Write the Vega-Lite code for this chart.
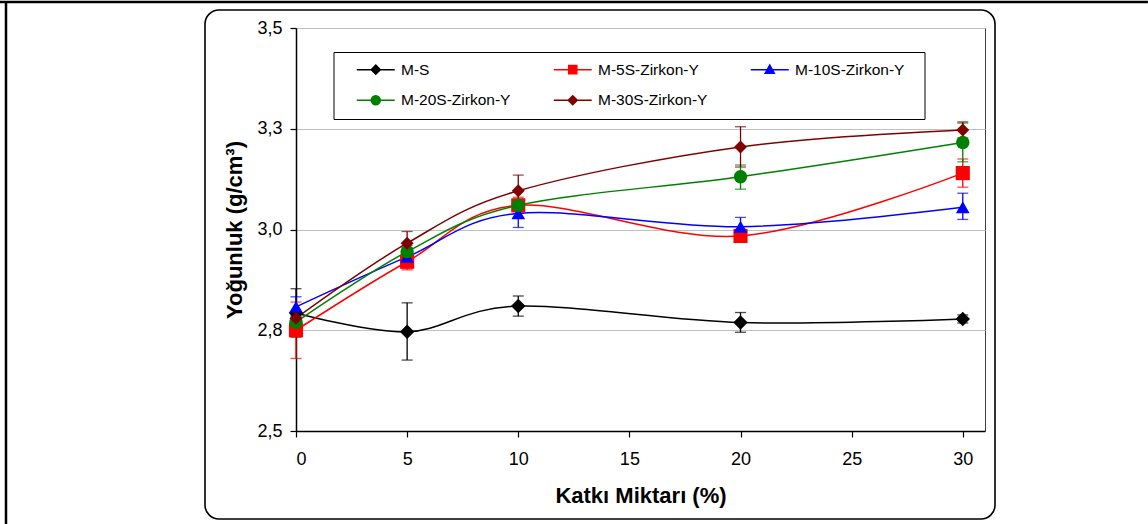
{
  "$schema": "https://vega.github.io/schema/vega-lite/v6.json",
  "width": 689,
  "height": 403,
  "autosize": {"type": "none"},
  "padding": {"left": 296, "top": 28, "right": 163, "bottom": 93},
  "background": "white",
  "config": {
    "font": "Liberation Sans",
    "view": {"stroke": "#404040", "strokeWidth": 1, "fill": "white"},
    "axis": {
      "labelFont": "Liberation Sans",
      "labelColor": "#000000",
      "labelFontSize": 18,
      "titleFont": "Liberation Sans",
      "titleColor": "#000000",
      "titleFontSize": 22,
      "titleFontWeight": "bold",
      "domainColor": "#000000",
      "domainWidth": 1.5,
      "tickColor": "#000000",
      "tickWidth": 1.2,
      "tickSize": 6,
      "gridColor": "#c0c0c0",
      "gridWidth": 1
    },
    "legend": {
      "orient": "none",
      "columns": 3,
      "direction": "horizontal",
      "gridAlign": "each",
      "padding": 9.5,
      "rowPadding": 14,
      "columnPadding": 19,
      "symbolSize": 81,
      "symbolStrokeWidth": 1.5,
      "symbolOffset": 25,
      "labelOffset": 17.5,
      "labelFont": "Liberation Sans",
      "labelFontSize": 15.5,
      "labelColor": "#000000",
      "labelLimit": 300,
      "strokeColor": "#000000",
      "fillColor": "#ffffff"
    }
  },
  "resolve": {
    "scale": {"shape": "independent"},
    "legend": {"color": "independent", "shape": "independent", "size": "independent", "stroke": "independent"}
  },
  "data": {
    "values": [
      {"s": "M-S", "x": 0, "y": 2.793, "lo": 2.733, "hi": 2.853},
      {"s": "M-S", "x": 5, "y": 2.746, "lo": 2.676, "hi": 2.818},
      {"s": "M-S", "x": 10, "y": 2.81, "lo": 2.785, "hi": 2.835},
      {"s": "M-S", "x": 20, "y": 2.769, "lo": 2.745, "hi": 2.794},
      {"s": "M-S", "x": 30, "y": 2.778, "lo": 2.768, "hi": 2.788},
      {"s": "M-5S-Zirkon-Y", "x": 0, "y": 2.75, "lo": 2.68, "hi": 2.82},
      {"s": "M-5S-Zirkon-Y", "x": 5, "y": 2.92, "lo": 2.9, "hi": 2.94},
      {"s": "M-5S-Zirkon-Y", "x": 10, "y": 3.06, "lo": 3.04, "hi": 3.08},
      {"s": "M-5S-Zirkon-Y", "x": 20, "y": 2.984, "lo": 2.97, "hi": 3.0},
      {"s": "M-5S-Zirkon-Y", "x": 30, "y": 3.14, "lo": 3.105, "hi": 3.175},
      {"s": "M-10S-Zirkon-Y", "x": 0, "y": 2.808, "lo": 2.785, "hi": 2.833},
      {"s": "M-10S-Zirkon-Y", "x": 5, "y": 2.932, "lo": 2.905, "hi": 2.955},
      {"s": "M-10S-Zirkon-Y", "x": 10, "y": 3.04, "lo": 3.005, "hi": 3.07},
      {"s": "M-10S-Zirkon-Y", "x": 20, "y": 3.007, "lo": 2.985, "hi": 3.03},
      {"s": "M-10S-Zirkon-Y", "x": 30, "y": 3.055, "lo": 3.025, "hi": 3.09},
      {"s": "M-20S-Zirkon-Y", "x": 0, "y": 2.77, "lo": 2.755, "hi": 2.785},
      {"s": "M-20S-Zirkon-Y", "x": 5, "y": 2.945, "lo": 2.93, "hi": 2.96},
      {"s": "M-20S-Zirkon-Y", "x": 10, "y": 3.06, "lo": 3.045, "hi": 3.075},
      {"s": "M-20S-Zirkon-Y", "x": 20, "y": 3.131, "lo": 3.1, "hi": 3.16},
      {"s": "M-20S-Zirkon-Y", "x": 30, "y": 3.216, "lo": 3.168, "hi": 3.264},
      {"s": "M-30S-Zirkon-Y", "x": 0, "y": 2.78, "lo": 2.765, "hi": 2.795},
      {"s": "M-30S-Zirkon-Y", "x": 5, "y": 2.966, "lo": 2.935, "hi": 2.995},
      {"s": "M-30S-Zirkon-Y", "x": 10, "y": 3.096, "lo": 3.055, "hi": 3.135},
      {"s": "M-30S-Zirkon-Y", "x": 20, "y": 3.205, "lo": 3.155, "hi": 3.255},
      {"s": "M-30S-Zirkon-Y", "x": 30, "y": 3.247, "lo": 3.227, "hi": 3.267}
    ]
  },
  "layer": [
    {
      "data": {"values": [{}]},
      "mark": {"type": "rect", "fillOpacity": 0, "stroke": "#000000", "strokeWidth": 1.6, "cornerRadius": 14, "clip": false},
      "encoding": {
        "x": {"datum": -4.094, "type": "quantitative", "title": "Katkı Miktarı (%)"},
        "x2": {"datum": 31.45},
        "y": {"datum": 3.5447, "type": "quantitative", "title": "Yoğunluk (g/cm³)"},
        "y2": {"datum": 2.2816}
      }
    },
    {
      "data": {"values": [{}]},
      "mark": {"type": "rule", "stroke": "#000000", "strokeWidth": 2.5, "clip": false},
      "encoding": {
        "x": {"datum": -13.32, "type": "quantitative", "title": "Katkı Miktarı (%)"},
        "x2": {"datum": 38.33},
        "y": {"datum": 3.5645, "type": "quantitative", "title": "Yoğunluk (g/cm³)"}
      }
    },
    {
      "data": {"values": [{}]},
      "mark": {"type": "rule", "stroke": "#000000", "strokeWidth": 2.5, "clip": false},
      "encoding": {
        "x": {"datum": -13.048, "type": "quantitative", "title": "Katkı Miktarı (%)"},
        "y": {"datum": 3.5645, "type": "quantitative", "title": "Yoğunluk (g/cm³)"},
        "y2": {"datum": 2.2692}
      }
    },
    {
      "mark": {"type": "errorbar", "ticks": {"size": 11, "thickness": 1.3}, "rule": {"strokeWidth": 1.3}},
      "encoding": {
        "x": {"field": "x", "type": "quantitative", "title": "Katkı Miktarı (%)"},
        "y": {"field": "lo", "type": "quantitative", "title": "Yoğunluk (g/cm³)"},
        "y2": {"field": "hi"},
        "color": {"field": "s", "type": "nominal", "legend": null}
      }
    },
    {
      "mark": {"type": "line", "interpolate": "cardinal", "strokeWidth": 1.5},
      "encoding": {
        "x": {"field": "x", "type": "quantitative", "title": "Katkı Miktarı (%)"},
        "y": {"field": "y", "type": "quantitative", "title": "Yoğunluk (g/cm³)"},
        "color": {"field": "s", "type": "nominal", "legend": null}
      }
    },
    {
      "mark": {"type": "point", "filled": true, "opacity": 1, "strokeWidth": 0},
      "encoding": {
        "x": {
          "field": "x",
          "type": "quantitative",
          "title": "Katkı Miktarı (%)",
          "scale": {"domain": [0, 31], "nice": false, "zero": false},
          "axis": {
            "values": [0, 5, 10, 15, 20, 25, 30],
            "grid": false,
            "labelPadding": 13,
            "titlePadding": 17
          }
        },
        "y": {
          "field": "y",
          "type": "quantitative",
          "title": "Yoğunluk (g/cm³)",
          "scale": {"domain": [2.5, 3.5], "nice": false, "zero": false},
          "axis": {
            "values": [2.5, 2.75, 3, 3.25, 3.5],
            "labelExpr": "replace(format(datum.value, '.1f'), '.', ',')",
            "grid": true,
            "labelPadding": 8,
            "titlePadding": 10
          }
        },
        "color": {
          "field": "s",
          "type": "nominal",
          "scale": {
            "domain": ["M-S", "M-5S-Zirkon-Y", "M-10S-Zirkon-Y", "M-20S-Zirkon-Y", "M-30S-Zirkon-Y"],
            "range": ["#000000", "#FF0000", "#0000FF", "#008000", "#800000"]
          },
          "legend": null
        },
        "shape": {
          "field": "s",
          "type": "nominal",
          "scale": {
            "domain": ["M-S", "M-5S-Zirkon-Y", "M-10S-Zirkon-Y", "M-20S-Zirkon-Y", "M-30S-Zirkon-Y"],
            "range": ["diamond", "square", "triangle-up", "circle", "diamond"]
          },
          "legend": null
        },
        "size": {
          "field": "s",
          "type": "nominal",
          "scale": {
            "domain": ["M-S", "M-5S-Zirkon-Y", "M-10S-Zirkon-Y", "M-20S-Zirkon-Y", "M-30S-Zirkon-Y"],
            "range": [210, 169, 225, 169, 196]
          },
          "legend": null
        }
      }
    },
    {
      "transform": [{"filter": "false"}],
      "mark": {"type": "point", "filled": true, "opacity": 1, "strokeWidth": 1.5},
      "encoding": {
        "x": {"field": "x", "type": "quantitative", "title": "Katkı Miktarı (%)"},
        "y": {"field": "y", "type": "quantitative", "title": "Yoğunluk (g/cm³)"},
        "color": {
          "field": "s",
          "type": "nominal",
          "legend": {"title": null, "orient": "none", "legendX": 37.5, "legendY": 24}
        },
        "stroke": {
          "field": "s",
          "type": "nominal",
          "scale": {
            "domain": ["M-S", "M-5S-Zirkon-Y", "M-10S-Zirkon-Y", "M-20S-Zirkon-Y", "M-30S-Zirkon-Y"],
            "range": ["#000000", "#FF0000", "#0000FF", "#008000", "#800000"]
          },
          "legend": {"title": null, "orient": "none", "legendX": 37.5, "legendY": 24}
        },
        "shape": {
          "field": "s",
          "type": "nominal",
          "scale": {
            "domain": ["M-S", "M-5S-Zirkon-Y", "M-10S-Zirkon-Y", "M-20S-Zirkon-Y", "M-30S-Zirkon-Y"],
            "range": [
              "M31.6,0M-4.222,0L4.222,0M0,-1L1,0L0,1L-1,0Z",
              "M31.6,0M-4.222,0L4.222,0M-0.9,-0.9L0.9,-0.9L0.9,0.9L-0.9,0.9Z",
              "M31.6,0M-4.222,0L4.222,0M0,-1L1,0.8L-1,0.8Z",
              "M31.6,0M-4.222,0L4.222,0M-1,0A1,1,0,1,1,1,0A1,1,0,1,1,-1,0Z",
              "M31.6,0M-4.222,0L4.222,0M0,-1L1,0L0,1L-1,0Z"
            ]
          },
          "legend": {"title": null, "orient": "none", "legendX": 37.5, "legendY": 24}
        }
      }
    }
  ]
}
